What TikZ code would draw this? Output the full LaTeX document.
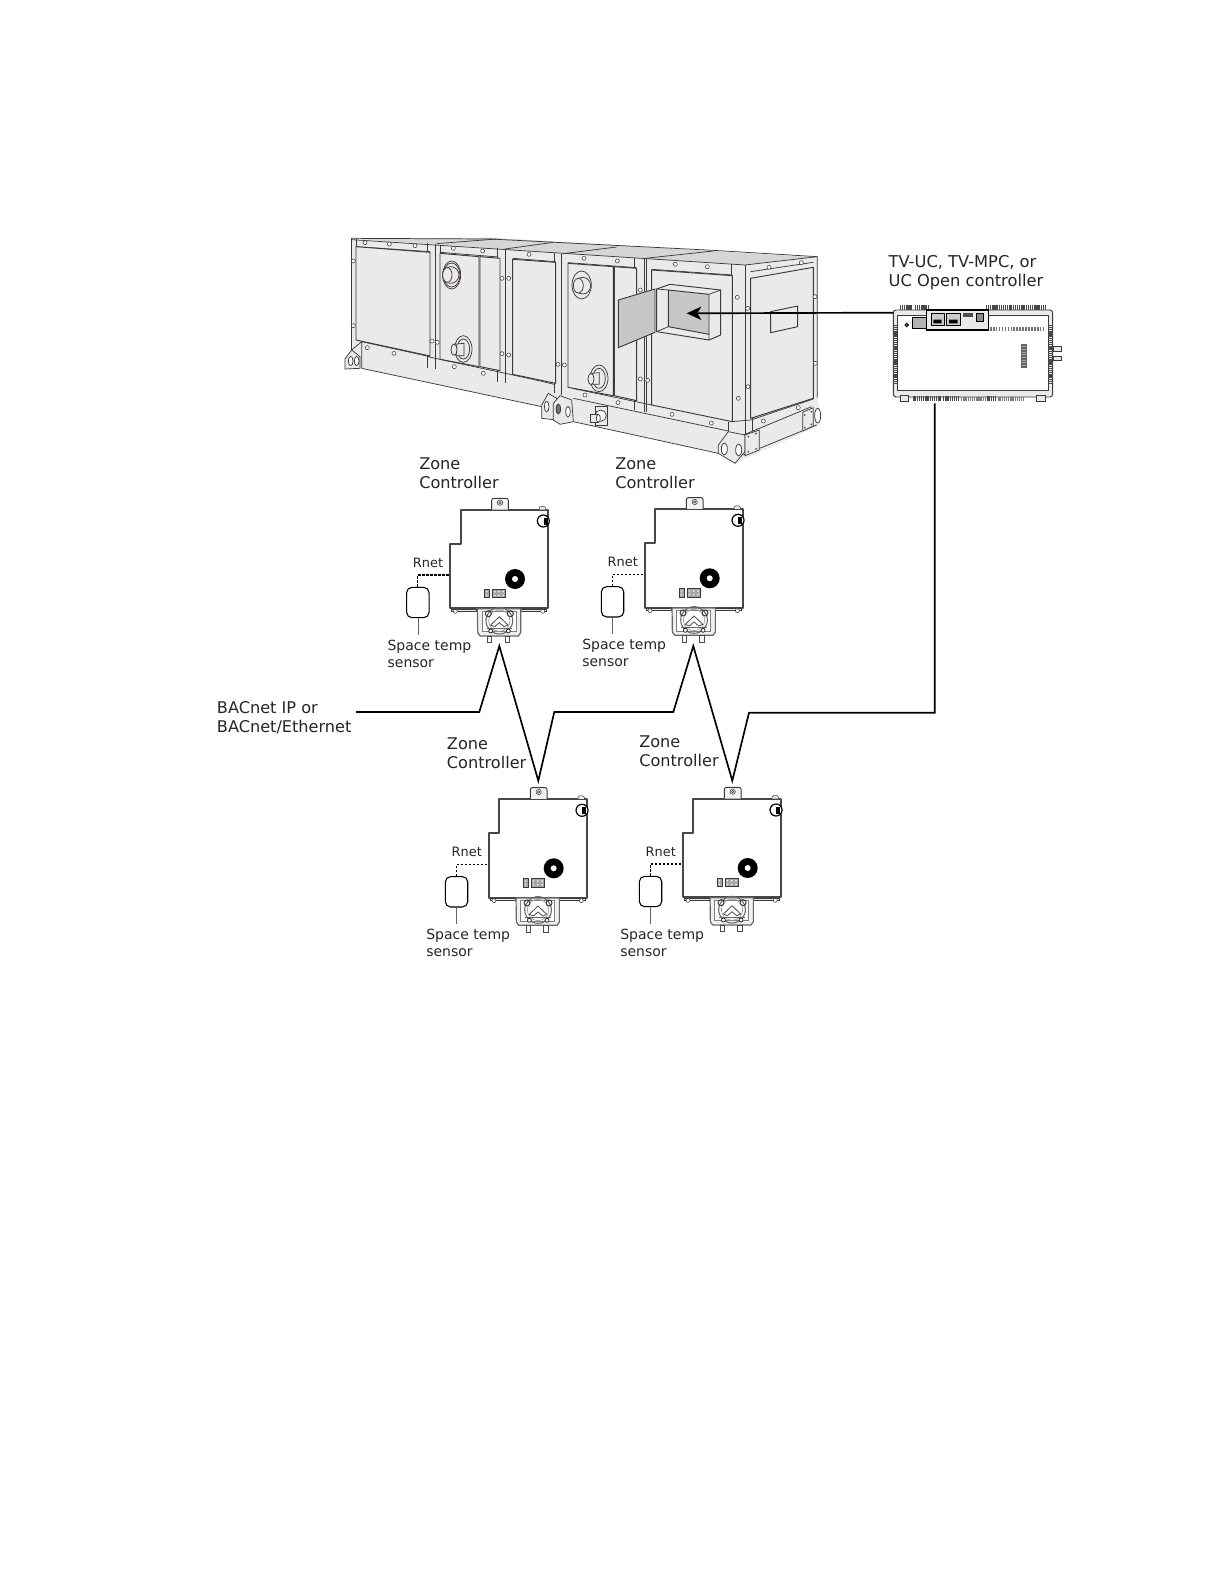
\documentclass[tikz,border=0pt]{standalone}
\usepackage{fontspec}
\setmainfont{DejaVu Sans}
\usetikzlibrary{arrows.meta}
\definecolor{panel}{HTML}{EAEAE8}
\definecolor{topc}{HTML}{D6D6D4}
\definecolor{duct}{HTML}{C6C6C4}
\definecolor{ink}{HTML}{3A3A3A}
\tikzset{
  bolt/.style={draw=ink,fill=white,line width=.4pt},
  ahu/.style={draw=ink,line width=.55pt,line join=round},
  pane/.style={draw=ink,fill=panel,line width=.7pt,line join=round},
  wire/.style={draw=black,line width=1.25pt,miter limit=20},
  biglabel/.style={anchor=base west,inner sep=0pt,font=\fontsize{12.1}{14}\selectfont,text=black!85},
  titlelabel/.style={anchor=base west,inner sep=0pt,font=\fontsize{12.2}{14}\selectfont,text=black!85},
  smalllabel/.style={anchor=base west,inner sep=0pt,font=\fontsize{10.5}{12}\selectfont,text=black!85},
  sensorbox/.style={draw=black,fill=white,line width=.8pt,rounded corners=4pt,minimum width=16.8pt,minimum height=22.8pt,inner sep=0pt},
  term/.style={line width=3.6pt,draw=black!72,dash pattern=on .9pt off .5pt},
  zonectl/.pic={
    \begin{scope}[scale=1/3]
    % body
    \draw[draw=black!72,fill=white,line width=1.35pt,line join=round] (242,180)--(505,180)--(505,475)--(210,475)--(210,282)--(242,282)--cycle;
    % top tab
    \draw[draw=ink,fill=panel!60!white,line width=.7pt,rounded corners=1.5pt] (335,179)--(335,145)--(385,145)--(385,179);
    \draw[ink,line width=.4pt] (360,158) circle (8) (360,158) circle (3.5);
    \draw[ink,fill=panel,line width=.4pt,rounded corners=1pt] (478,179)--(478,170)--(497,170)--(497,179);
    % corner grommet
    \draw[black,fill=white,line width=.9pt] (490,213) circle (18);
    \fill[black] (491,203) rectangle (503,225);
    % knob
    \fill[black] (405,387) circle (30);
    \fill[white] (405,387) circle (9);
    % jumpers
    \draw[ink,fill=black!35,line width=.3pt] (313,418) rectangle (327,443);
    \draw[ink,fill=black!35,line width=.3pt] (337,418) rectangle (377,443);
    \foreach \px in {320}{\fill[white] (\px,425) circle (2.5) (\px,436) circle (2.5);}
    \foreach \px in {344,357,370}{\fill[white] (\px,425) circle (2.5) (\px,436) circle (2.5);}
    % feet
    \draw[ink,fill=panel,line width=.4pt] (215,478) rectangle (290,484);
    \draw[ink,fill=white,line width=.4pt] (226,484) circle (6);
    \draw[ink,fill=panel,line width=.4pt] (422,478) rectangle (500,484);
    \draw[ink,fill=white,line width=.4pt] (488,484) circle (6);
    % actuator
    \draw[black!60,fill=panel!70!white,line width=.9pt,line join=round] (292,476)--(422,476)--(422,548)--(415,558)--(300,558)--(293,548)--cycle;
    \draw[black!50,fill=white,line width=.5pt] (306,484) rectangle (408,545);
    \draw[black!60,line width=.8pt] (358,512) circle (40);
    \draw[black!40,line width=.5pt] (358,512) circle (32);
    \draw[black!70,fill=white,line width=.6pt,line join=round] (332,525)--(358,500)--(384,525)--(372,530)--(358,518)--(344,530)--cycle;
    \draw[black!60,line width=.8pt] (320,535)--(396,535);
    \draw[black!85,fill=white,line width=.6pt] (332,543) circle (6) (385,543) circle (6);
    \draw[black!70,fill=white,line width=.55pt] (322,558) rectangle (335,578) (375,558) rectangle (388,578);
    \draw[black!80,line width=.7pt] (325,491) circle (9) (391,491) circle (9);
    % sensor, Rnet
    \node[sensorbox] (-sensor) at (113.5,457.5) {};
    \coordinate (-port) at (210,375);
    \coordinate (-stemend) at (113.5,555);
    \draw[black,line width=.95pt,dash pattern=on 1.9pt off 1.1pt] (-sensor.north) |- (-port);
    \draw[black!60,line width=.5pt] (-sensor.south) -- (-stemend);
    \node[smalllabel,font=\fontsize{9.7}{12}\selectfont] (-rnet) at (98,351) {Rnet};
    \node[smalllabel] (-st) at (22,600) {Space temp};
    \node[smalllabel] (-sn) at (22,652) {sensor};
    \end{scope}
  }
}
\begin{document}
\begin{tikzpicture}[x=.75pt,y=-.75pt]
\useasboundingbox (0,0) rectangle (1224,1584);
\fill[white] (0,0) rectangle (1224,1584);

% ---------- air handling unit ----------
\begin{scope}[shift={(330,225)},scale=1/3]
% silhouette
\fill[panel] (65,40)--(1450,95)--(1462,95)--(1462,520)--(1475,575)--(1470,600)--(1215,715)--(1165,685)--(730,590)--(635,580)--(635,545)--(95,430)--(45,430)--(45,402)--(65,375)--cycle;
% roof
\fill[topc] (90,42)--(480,38)--(1150,78)--(1448,97)--(1250,120)--(970,103)--(700,85)--(330,58)--cycle;
\draw[ahu] (65,40)--(480,42)--(1150,76)--(1462,95)--(1462,518);
\draw[ahu] (65,40)--(65,375);
\draw[ahu] (65,44)--(1245,120)--(1462,95);
\draw[ahu] (78,42)--(78,346);
\draw[ahu] (320,56)--(500,42) (525,72)--(670,52) (700,86)--(860,66) (945,100)--(1150,78);
% frame top rail lower edge
\draw[ahu] (78,65)--(300,80) (330,82)--(505,96) (548,100)--(677,110) (714,113)--(920,128) (965,133)--(1207,150);
\draw[ahu] (1205,118)--(1205,590);
\draw[ahu] (1245,120)--(1245,588);
\draw[ahu] (1262,160)--(1262,580);
\draw[ahu] (1262,140)--(1450,112);
% vertical posts
\draw[ahu] (293,55)--(293,430) (316,57)--(316,432) (330,60)--(330,400);
\draw[ahu] (503,70)--(503,470) (527,72)--(527,475);
\draw[ahu] (672,84)--(672,505) (695,86)--(695,510);
\draw[ahu] (914,100)--(914,555) (943,101)--(943,560) (948,102)--(948,562);
% panels
\draw[pane] (78,65)--(300,82)--(300,393)--(78,345)--cycle;
\draw[pane] (330,85)--(447,95)--(447,425)--(330,403)--cycle;
\draw[pane] (450,95)--(510,100)--(510,437)--(450,425)--cycle;
\draw[pane] (548,103)--(677,112)--(677,475)--(548,448)--cycle;
\draw[pane] (714,115)--(850,125)--(850,512)--(714,487)--cycle;
\draw[pane] (853,125)--(920,130)--(920,527)--(853,512)--cycle;
\draw[pane] (965,135)--(1207,152)--(1207,590)--(965,540)--cycle;
\draw[pane] (1262,160)--(1450,127)--(1450,520)--(1262,580)--cycle;
\draw[pane] (1322,260)--(1403,243)--(1403,305)--(1322,323)--cycle;
% base rails
\draw[ahu] (65,375)--(95,350)--(300,395) (95,350)--(95,430);
\draw[ahu] (95,430)--(635,545);
\draw[ahu] (293,395)--(503,440)--(640,470)--(672,478) (727,490)--(965,540);
\draw[ahu] (730,590)--(1165,685);
\draw[ahu] (730,520)--(1195,618);
\draw[ahu] (1195,590)--(1195,680);
\draw[ahu] (1205,590)--(1262,585)--(1450,522);
\draw[ahu] (1268,580)--(1268,618) (1245,588)--(1245,630);
\draw[ahu] (1240,630)--(1445,545);
\draw[ahu] (1240,690)--(1460,600);
% lifting lugs
\draw[ahu,fill=panel] (45,402)--(65,375)--(90,395)--(90,430)--(45,432)--cycle;
\draw[ahu,fill=white] (62,408) ellipse (7 and 14) (80,408) ellipse (7 and 14);
\draw[ahu,fill=panel] (635,540)--(655,505)--(680,520)--(680,585)--(635,580)--cycle;
\draw[ahu,fill=white] (650,545) ellipse (7 and 16);
\draw[ahu,fill=panel] (670,585)--(670,535)--(690,512)--(725,525)--(730,590)--(690,598)--cycle;
\draw[ahu,fill=black!55] (685,552) ellipse (7 and 15);
\draw[ahu,fill=white] (714,560) ellipse (7 and 16);
\draw[ahu,fill=panel] (795,545) rectangle (832,600);
\draw[ahu,fill=white] (812,572) circle (17);
\draw[ahu,fill=panel] (782,568) rectangle (805,592);
\draw[ahu,fill=white] (805,580) ellipse (6 and 12);
\draw[ahu,fill=panel] (1165,685)--(1165,660)--(1195,620)--(1245,630)--(1245,680)--(1215,715)--cycle;
\draw[ahu,fill=white] (1183,672) ellipse (9 and 18);
\draw[ahu,fill=white] (1226,675) ellipse (9 and 18);
\draw[ahu,fill=panel] (1245,630)--(1288,615)--(1288,675)--(1245,692)--cycle;
\foreach \q in {(1255,635),(1278,626),(1255,680),(1278,672)}{\fill[black!70] \q circle (3);}
\draw[ahu,fill=panel] (1418,562)--(1450,548)--(1450,603)--(1418,618)--cycle;
\foreach \q in {(1424,570),(1444,560),(1424,608),(1444,598)}{\fill[black!70] \q circle (3);}
\draw[ahu,fill=white] (1463,572) ellipse (9 and 22);
% coils / stubs
\draw[ahu] (365,150) ellipse (27 and 42);
\draw[ahu,draw=red!15!ink] (365,150) ellipse (25 and 36);
\draw[ahu,fill=panel] (362,150) ellipse (25 and 25);
\draw[ahu,fill=panel] (352,150) ellipse (14 and 22);
\draw[ahu] (400,372) ellipse (26 and 40) (400,372) ellipse (19 and 30);
\draw[ahu,fill=panel] (380,357)--(402,355)--(402,392)--(380,392)--cycle;
\draw[ahu,fill=panel] (372,374) ellipse (9 and 17);
\draw[ahu] (755,180) ellipse (29 and 42);
\draw[ahu,fill=panel] (758,182) ellipse (24 and 25);
\draw[ahu,fill=panel] (745,182) ellipse (15 and 22);
\draw[ahu] (807,460) ellipse (27 and 40) (807,460) ellipse (19 and 30);
\draw[ahu,fill=panel] (785,445)--(808,443)--(808,478)--(785,478)--cycle;
\draw[ahu,fill=panel] (783,462) ellipse (9 and 17);
% duct
\draw[pane,fill=duct] (865,225)--(975,192)--(975,322)--(865,368)--cycle;
\draw[pane] (980,192)--(1020,178)--(1172,195)--(1172,330)--(1137,345)--(980,320)--cycle;
\draw[pane,fill=duct] (1015,195)--(1137,208)--(1137,328)--(1015,305)--cycle;
\draw[ahu] (980,192)--(1015,195) (1137,208)--(1172,195) (1137,328)--(1137,345) (980,320)--(1015,305);
\foreach \q in {(105,53),(178,57),(255,62),(70,108),(70,302),(112,368),(192,385),(370,70),(458,78),(597,88),(762,100),(862,108),(1036,118),(1132,125),(1317,127),(1414,113),(516,160),(536,160),(516,386),(536,390),(306,348),(322,352),(373,425),(460,445),(684,418),(703,420),(765,510),(864,533),(931,195),(931,462),(953,466),(1222,217),(1253,250),(1254,485),(1225,520),(1026,568),(1144,594),(1300,588),(1405,548),(1455,215),(1456,415)}{
  \draw[bolt] \q circle (6);
}
\coordinate (ductT) at (1070,265);
\end{scope}

% ---------- building controller ----------
\begin{scope}[shift={(870,245)},scale=1/3]
\draw[ink,fill=panel,line width=.7pt,rounded corners=2pt] (70,195) rectangle (548,456);
\draw[ink,fill=white,line width=.6pt] (82,212) rectangle (535,435);
\draw[ink,fill=panel,line width=.4pt] (90,450) rectangle (115,470);
\draw[ink,fill=panel,line width=.4pt] (500,450) rectangle (525,470);
\draw[term] (75,240)--(75,415);
\draw[term] (541,240)--(541,415);
\draw[term] (90,187)--(125,187);
\draw[term] (135,187)--(178,187);
\draw[term] (348,187)--(412,187);
\draw[term] (418,187)--(525,187);
\draw[term] (130,461)--(212,461);
\draw[term] (218,461)--(268,461);
\draw[term,draw=black!50,line width=2.6pt] (272,462)--(350,462);
\draw[term] (352,461)--(380,461);
\draw[term,draw=black!50,line width=2.6pt] (385,462)--(462,462);
\draw[black,fill=panel,line width=.8pt] (170,195) rectangle (355,255);
\draw[black,fill=black!20,line width=.6pt] (183,205) rectangle (222,240) (230,205) rectangle (270,240);
\fill[black] (190,224) rectangle (215,235) (237,224) rectangle (263,235);
\fill[black!70] (278,205) rectangle (310,215);
\draw[black,fill=black!45,line width=.5pt] (318,205) rectangle (340,228);
\draw[black,fill=white,line width=.8pt] (110,240) circle (5);
\draw[black,fill=black!30,line width=.4pt] (128,218) rectangle (168,250);
\draw[black!55,line width=3pt,dash pattern=on 1.2pt off 1pt] (360,253)--(520,253);
\draw[black!60,fill=black!35,line width=.3pt] (455,298) rectangle (470,368);
\draw[black!60,line width=3pt,dash pattern=on .6pt off .6pt] (462,300)--(462,366);
\draw[ink,fill=panel,line width=.4pt] (550,305) rectangle (575,318) (550,333) rectangle (575,347);
\coordinate (ctrlW) at (70,203);
\coordinate (ctrlS) at (194,475);
\node[titlelabel] (ctrl1) at (55,68) {TV-UC, TV-MPC, or};
\node[titlelabel] (ctrl2) at (55,125) {UC Open controller};
\end{scope}

% ---------- zone controllers ----------
\pic (z1) at (380,450) {zonectl};
\pic (z2) at (574.7,449.3) {zonectl};
\pic (z3) at (418.7,739.3) {zonectl};
\pic (z4) at (612.7,739) {zonectl};

\node[biglabel] (zl1a) at (419,469) {Zone};
\node[biglabel] (zl1b) at (419,488.7) {Controller};
\node[biglabel] (zl2a) at (615,469) {Zone};
\node[biglabel] (zl2b) at (615,488.7) {Controller};
\node[biglabel] (zl3a) at (446.7,749) {Zone};
\node[biglabel] (zl3b) at (446.7,768.3) {Controller};
\node[biglabel] (zl4a) at (639,747) {Zone};
\node[biglabel] (zl4b) at (639,766.3) {Controller};
\node[biglabel] (ba) at (216.7,713.3) {BACnet IP or};
\node[biglabel] (bb) at (216.7,732.7) {BACnet/Ethernet};

% ---------- connectors ----------
\coordinate (w0) at (356,712);
\coordinate (w1) at (479.3,712);
\coordinate (w2) at (499.3,646);
\coordinate (w3) at (538.3,780.7);
\coordinate (w4) at (554.3,712);
\coordinate (w5) at (673.3,712);
\coordinate (w6) at (693.3,646);
\coordinate (w7) at (732.3,780.7);
\coordinate (w8) at (749,712.7);
\coordinate (w9) at (934.7,712.7);
\draw[wire] (w0)--(w1)--(w2)--(w3)--(w4)--(w5)--(w6)--(w7)--(w8)--(w9)--(ctrlS);
\draw[black,line width=1.25pt,-{Stealth[length=11pt,width=10pt,inset=3pt]}] (ctrlW)--(ductT);
\end{tikzpicture}
\end{document}
